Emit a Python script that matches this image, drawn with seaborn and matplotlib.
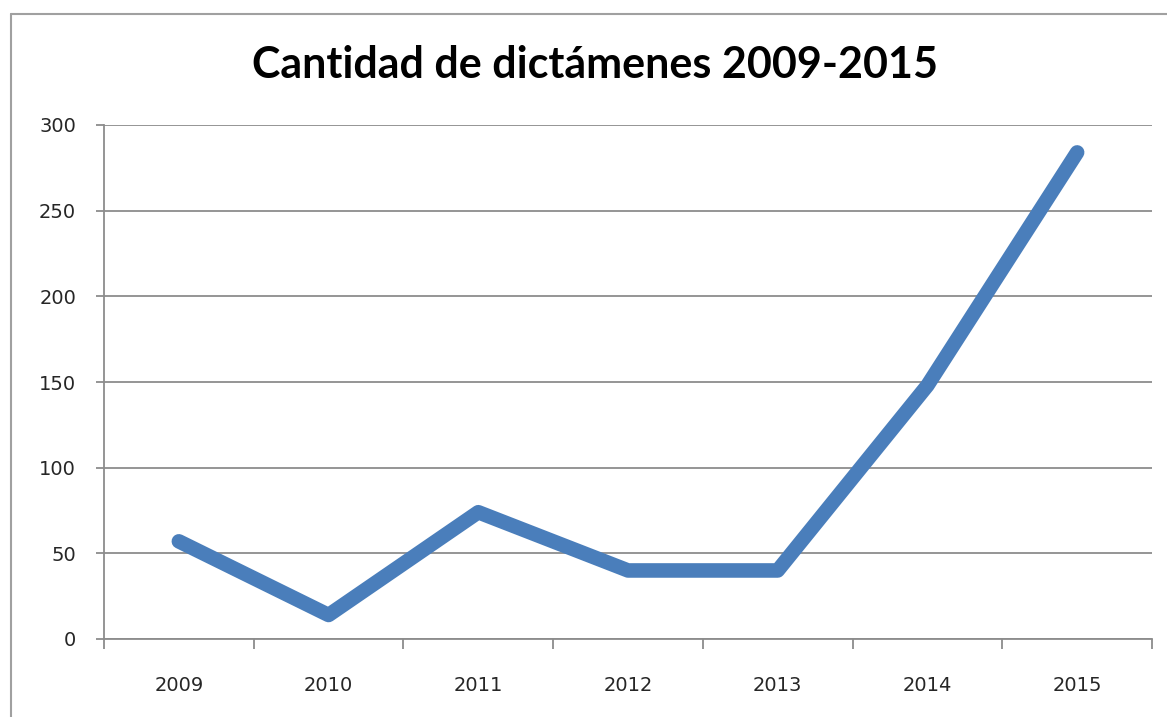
import numpy as np
import pandas as pd
import matplotlib.pyplot as plt
from matplotlib.ticker import FixedLocator
import seaborn as sns

# datos
years = ['2009', '2010', '2011', '2012', '2013', '2014', '2015']
dictamenes = [57, 14, 74, 40, 40, 148, 284]
y_ticks = [0, 50, 100, 150, 200, 250, 300]

df = pd.DataFrame({'year': years, 'count': dictamenes})

sns.set_theme(style='white')
plt.rcParams['font.family'] = ['DejaVu Sans']

fig = plt.figure(figsize=(11.67, 7.17), dpi=100)
ax = fig.add_axes([104 / 1167, 1 - 639 / 717, 1048 / 1167, 514 / 717])

line_color = '#4a7ebb'
grid_color = '#8c8c8c'

sns.lineplot(data=df, x='year', y='count', ax=ax, color=line_color,
             linewidth=10.5, sort=False)
for ln in ax.lines:
    ln.set_solid_capstyle('round')
    ln.set_solid_joinstyle('round')

ax.set_xlim(-0.5, len(years) - 0.5)
ax.set_ylim(0, 300)
ax.set_yticks(y_ticks)
ax.set_yticklabels([str(t) for t in y_ticks])
ax.set_xticks(range(len(years)))
ax.set_xticklabels(years)
ax.xaxis.set_minor_locator(FixedLocator(np.arange(-0.5, len(years), 1)))

ax.yaxis.grid(True, color=grid_color, linewidth=1.3)
ax.xaxis.grid(False)
ax.set_axisbelow(True)

for side in ['top', 'right']:
    ax.spines[side].set_visible(False)
for side in ['left', 'bottom']:
    ax.spines[side].set_color(grid_color)
    ax.spines[side].set_linewidth(1.3)

ax.tick_params(axis='y', which='major', left=True, length=6, width=1.3,
               color=grid_color, labelsize=14, labelcolor='#262626', pad=14)
ax.tick_params(axis='x', which='major', bottom=False, length=0, labelsize=14,
               labelcolor='#262626', pad=26.5)
ax.tick_params(axis='x', which='minor', bottom=True, length=7, width=1.3,
               color=grid_color)

ax.set_xlabel('')
ax.set_ylabel('')

fig.text(595 / 1167, 1 - 65 / 717, 'Cantidad de dictámenes 2009-2015',
         ha='center', va='center', fontsize=31, fontweight='bold',
         family=['Lato', 'DejaVu Sans'], color='black')

# marco exterior del gráfico (recortado a derecha y abajo)
fig.add_artist(plt.Line2D([11 / 1167, 11 / 1167], [0, 1 - 14 / 717],
                          transform=fig.transFigure, color='#a0a0a0', linewidth=1.5))
fig.add_artist(plt.Line2D([11 / 1167, 1], [1 - 14 / 717, 1 - 14 / 717],
                          transform=fig.transFigure, color='#a0a0a0', linewidth=1.5))

fig.savefig('out.png', dpi=100)
